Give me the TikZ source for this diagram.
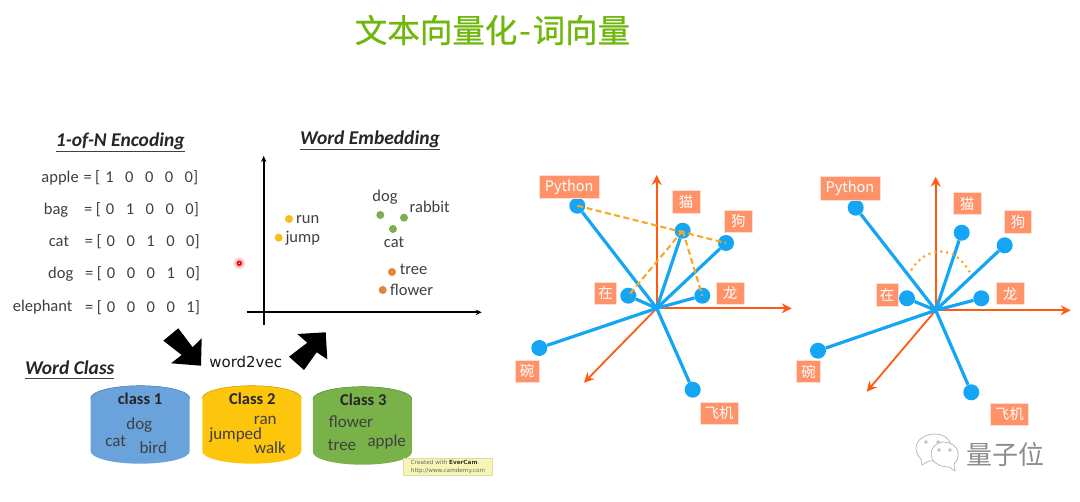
\documentclass[tikz,border=0pt]{standalone}
\usepackage{fontspec}
\setmainfont{Carlito}
\newfontfamily\cjk{Noto Sans CJK SC}
\newfontfamily\cjktitle[FakeBold=0.7]{Noto Sans CJK SC}
\newfontfamily\dv{DejaVu Sans}
\usetikzlibrary{arrows.meta}
\definecolor{titlegreen}{HTML}{6FB70A}
\definecolor{vecblue}{HTML}{14A5F5}
\definecolor{axisred}{HTML}{FF5A14}
\definecolor{lblbox}{HTML}{FF9268}
\definecolor{dashor}{HTML}{FBA625}
\definecolor{ptyellow}{HTML}{F7BE17}
\definecolor{ptgreen}{HTML}{7DAF50}
\definecolor{ptorange}{HTML}{E28536}
\definecolor{cylblue}{HTML}{6AA3DB}
\definecolor{cylyellow}{HTML}{FDC50C}
\definecolor{cylgreen}{HTML}{7AB24A}
\definecolor{txt}{HTML}{404040}
\definecolor{camyel}{HTML}{F7F5B5}
\tikzset{
  x=1pt,y=-1pt,
  lbl/.style={fill=lblbox,text=white,font=\cjk\fontsize{14.5}{14.5}\selectfont,inner sep=0pt,minimum height=22.5pt,draw=white!70!lblbox,line width=.5pt},
  vecdot/.style={circle,fill=vecblue,inner sep=0pt,minimum size=16pt},
  vecline/.style={draw=vecblue,line width=3.2pt},
  axisline/.style={draw=axisred,line width=1.8pt,-{Stealth[length=10pt,width=10pt]}},
  dashline/.style={draw=dashor,line width=2.1pt,dash pattern=on 6pt off 3.5pt},
  body/.style={text=txt,font=\fontsize{16.5}{16.5}\selectfont,inner sep=0pt},
  rowword/.style={body,anchor=west},
  heading/.style={text=black!85,font=\bfseries\itshape\fontsize{19.5}{19.5}\selectfont,inner sep=0pt},
  headrule/.style={draw=black!75,line width=.9pt},
  ptdot/.style={circle,inner sep=0pt,minimum size=8pt},
  axisk/.style={draw=black,line width=1.6pt,-{Stealth[length=6pt,width=5.5pt]}},
  cyltop/.style={line width=.5pt},
  cylhead/.style={text=black!85,font=\bfseries\fontsize{16.5}{16.5}\selectfont,inner sep=0pt},
  cylword/.style={text=black!75,font=\fontsize{17}{17}\selectfont,inner sep=0pt},
}
\newcommand{\vecrow}[5]{=\hspace{3.5pt}[\hspace{5pt}#1\hspace{11.5pt}#2\hspace{11.5pt}#3\hspace{11.5pt}#4\hspace{11.5pt}#5]}
\newcommand{\cyl}[3]{% x-left, y-top-centre, colour
  \fill[#3] (#1,#2) -- ++(0,53) arc[start angle=180,end angle=360,x radius=49.5pt,y radius=12.5pt] -- ++(0,-53) arc[start angle=0,end angle=360,x radius=49.5pt,y radius=12.5pt] -- cycle;
  \fill[#3] (#1,#2) arc[start angle=180,end angle=-180,x radius=49.5pt,y radius=12.5pt];
  \draw[cyltop,#3!80!black] (#1,#2) arc[start angle=180,end angle=360,x radius=49.5pt,y radius=-12.5pt];
}
\begin{document}
\begin{tikzpicture}
\useasboundingbox (0,0) rectangle (1080,502);
\fill[white] (0,0) rectangle (1080,502);

% title
\node[text=titlegreen,inner sep=0pt,font=\cjktitle\fontsize{32.5}{32.5}\selectfont] (title) at (492.5,30) {文本向量化\kern2pt-\kern2pt词向量};

% 1-of-N
\node[heading] (h1) at (120.3,141.5) {1-of-N Encoding};
\draw[headrule] (55.7,151.3) -- (185,151.3);
\node[rowword] (w1) at (41.3,178) {apple};
\node[rowword] (w2) at (43.7,209.7) {bag};
\node[rowword] (w3) at (48.7,241.4) {cat};
\node[rowword] (w4) at (48,273.7) {dog};
\node[rowword] (w5) at (12.7,307.4) {elephant};
\node[rowword] (v1) at (83.3,178) {\vecrow10000};
\node[rowword] (v2) at (84,209.7) {\vecrow01000};
\node[rowword] (v3) at (84.7,241.4) {\vecrow00100};
\node[rowword] (v4) at (85,273.7) {\vecrow00010};
\node[rowword] (v5) at (85,307.4) {\vecrow00001};

% word embedding
\node[heading] (h2) at (370,139) {Word Embedding};
\draw[headrule] (300,149) -- (440,149);
\coordinate (yb) at (263.7,325); \coordinate (yt) at (263.7,156);
\coordinate (xl) at (246.7,312.3); \coordinate (xr) at (481.7,312.3);
\draw[axisk] (yb) -- (yt);
\draw[axisk] (xl) -- (xr);
\node[ptdot,fill=ptyellow] (prun) at (289,219) {};
\node[ptdot,fill=ptyellow] (pjump) at (278.7,237.7) {};
\node[ptdot,fill=ptgreen] (pdog) at (380.3,215) {};
\node[ptdot,fill=ptgreen] (prab) at (404,217.7) {};
\node[ptdot,fill=ptgreen] (pcat) at (393,229) {};
\node[ptdot,fill=ptorange] (ptree) at (392,272) {};
\node[ptdot,fill=ptorange] (pflow) at (382.7,290) {};
\node[rowword] (trun) at (296,219.5) {run};
\node[rowword] (tjump) at (285.3,238.5) {jump};
\node[body] (tdog) at (385,197.3) {dog};
\node[body] (trab) at (429.7,207.3) {rabbit};
\node[body] (tcat) at (394,242.3) {cat};
\node[rowword] (ttree) at (399.7,269.3) {tree};
\node[rowword] (tflow) at (390,289.7) {flower};

% pointer
\fill[red,opacity=.12] (239.3,263.3) circle (6pt);
\fill[red,opacity=.2] (239.3,263.3) circle (4.5pt);
\fill[red!85!black] (239.3,263.3) circle (2.6pt);
\fill[white!80!red] (239.3,263.3) circle (1pt);

% block arrows
\fill[black] (178.3,328.3) -- (192.7,347.3) -- (201.7,338.3) -- (201,365.7) -- (171,363.3) -- (181.7,355) -- (163.3,340.7) -- cycle;
\fill[black] (325.7,332.3) -- (327.3,359.3) -- (316.7,352.3) -- (304,370) -- (289,356.7) -- (307.3,342.7) -- (297.3,334) -- cycle;
\node[inner sep=0pt,text=black!90,font=\dv\fontsize{15}{15}\selectfont] (w2v) at (245.7,361.5) {word2vec};

% word class
\node[heading] (h3) at (69.7,368) {Word Class};
\draw[headrule] (25,378) -- (114.3,378);
\cyl{90.7}{398.2}{cylblue}
\cyl{202.3}{398.2}{cylyellow}
\cyl{312.9}{399.2}{cylgreen}
\node[cylhead] (c1) at (140,398.3) {class 1};
\node[cylword] (c1a) at (139.3,425) {dog};
\node[cylword] (c1b) at (115.7,440.7) {cat};
\node[cylword] (c1c) at (153.3,447.7) {bird};
\node[cylhead] (c2) at (252.3,398.3) {Class 2};
\node[cylword] (c2a) at (265.3,420.7) {ran};
\node[cylword] (c2b) at (235.7,435) {jumped};
\node[cylword] (c2c) at (270,447.7) {walk};
\node[cylhead] (c3) at (363.3,399.3) {Class 3};
\node[cylword] (c3a) at (351,422) {flower};
\node[cylword] (c3b) at (342,445) {tree};
\node[cylword] (c3c) at (386.7,442.3) {apple};

% evercam
\node[draw=black!10!camyel,fill=camyel,line width=.8pt,minimum width=89pt,minimum height=17pt,inner sep=0pt,align=left,text=black!60,font=\dv\fontsize{5.7}{7.5}\selectfont] (cam) at (448,466.8) {Created with {\bfseries\color{black!80}EverCam}.\\http://www.camdemy.com};

% left vector diagram
\coordinate (a0) at (656.7,308.3);
\coordinate (ay) at (656.7,175);
\coordinate (ax) at (791.7,308.3);
\coordinate (az) at (584,382.7);
\draw[axisline] (a0) -- (ay);
\draw[axisline] (a0) -- (ax);
\draw[axisline] (a0) -- (az);
\node[vecdot] (ap) at (577.3,205.7) {};
\node[vecdot] (am) at (682.7,230.7) {};
\node[vecdot] (ag) at (726,243) {};
\node[vecdot] (az2) at (628.3,295.7) {};
\node[vecdot] (al) at (702.3,295.7) {};
\node[vecdot] (aw) at (539.3,348) {};
\node[vecdot] (af) at (692.7,389.7) {};
\foreach \n in {ap,am,ag,az2,al,aw,af} \draw[vecline] (a0) -- (\n);
\draw[dashline] (ap.center) -- (ag.center);
\draw[dashline] (am.center) -- (az2.center);
\draw[dashline] (am.center) -- (al.center);
\node[lbl,minimum width=59.5pt] (lap) at (569.2,187) {Python};
\node[lbl,minimum width=27.5pt] (lam) at (686,202) {猫};
\node[lbl,minimum width=27.5pt] (lag) at (738.3,221.2) {狗};
\node[lbl,minimum width=22pt] (laz) at (605.5,293.2) {在};
\node[lbl,minimum width=27.5pt] (lal) at (730,293.2) {龙};
\node[lbl,minimum width=24pt] (law) at (527,371.2) {碗};
\node[lbl,minimum width=38pt] (laf) at (719,413.2) {飞机};

% right vector diagram
\coordinate (b0) at (935.7,310.3);
\coordinate (by) at (935.7,176.7);
\coordinate (bx) at (1070.7,310.3);
\coordinate (bz) at (866.7,391.7);
\draw[axisline] (b0) -- (by);
\draw[axisline] (b0) -- (bx);
\draw[axisline] (b0) -- (bz);
\node[vecdot] (bp) at (855.7,207.7) {};
\node[vecdot] (bm) at (961.7,232.7) {};
\node[vecdot] (bg) at (1004.7,245.3) {};
\node[vecdot] (bz2) at (907,298.3) {};
\node[vecdot] (bl) at (981.3,298.3) {};
\node[vecdot] (bw) at (818,350.7) {};
\node[vecdot] (bf) at (971.3,392.3) {};
\foreach \n in {bp,bm,bg,bz2,bl,bw,bf} \draw[vecline] (b0) -- (\n);
\coordinate (arcs) at (911.7,269.3);
\coordinate (arce) at (971.7,276);
\draw[draw=dashor,line width=3pt,line cap=round,dash pattern=on 0pt off 6pt] (arcs) .. controls (925,248) and (955,241) .. (arce);
\node[lbl,minimum width=60pt,minimum height=23.5pt] (lbp) at (850,188.2) {Python};
\node[lbl,minimum width=27.5pt] (lbm) at (967.2,203.5) {猫};
\node[lbl,minimum width=27pt] (lbg) at (1018,221.7) {狗};
\node[lbl,minimum width=22pt] (lbz) at (887.2,295) {在};
\node[lbl,minimum width=28pt] (lbl) at (1010,293.5) {龙};
\node[lbl,minimum width=24pt] (lbw) at (808.5,371.5) {碗};
\node[lbl,minimum width=38pt] (lbf) at (1009.3,414.2) {飞机};

% watermark
\begin{scope}[draw=black!30,line width=.7pt,fill=white]
\filldraw (921,459) -- (922,465) -- (929,461) .. controls (945,462) and (951,454) .. (951,447) .. controls (951,439) and (943,434) .. (935,434) .. controls (925,434) and (916,440) .. (916,448) .. controls (916,452) and (918,456) .. (921,459) -- cycle;
\filldraw (949,467) -- (955,471) -- (954,464) .. controls (958,461) and (958,456) .. (958,453) .. controls (958,447) and (951,442) .. (944,442) .. controls (936,442) and (931,448) .. (931,454) .. controls (931,461) and (938,467) .. (949,467) -- cycle;
\filldraw (926,442) circle (1.3pt) (938,442) circle (1.3pt) (939,450) circle (1.3pt) (950,450) circle (1.3pt);
\end{scope}
\node[inner sep=0pt,text=black!45,font=\cjk\fontsize{26}{26}\selectfont] (wm) at (1005.5,455) {量子位};
\end{tikzpicture}
\end{document}
